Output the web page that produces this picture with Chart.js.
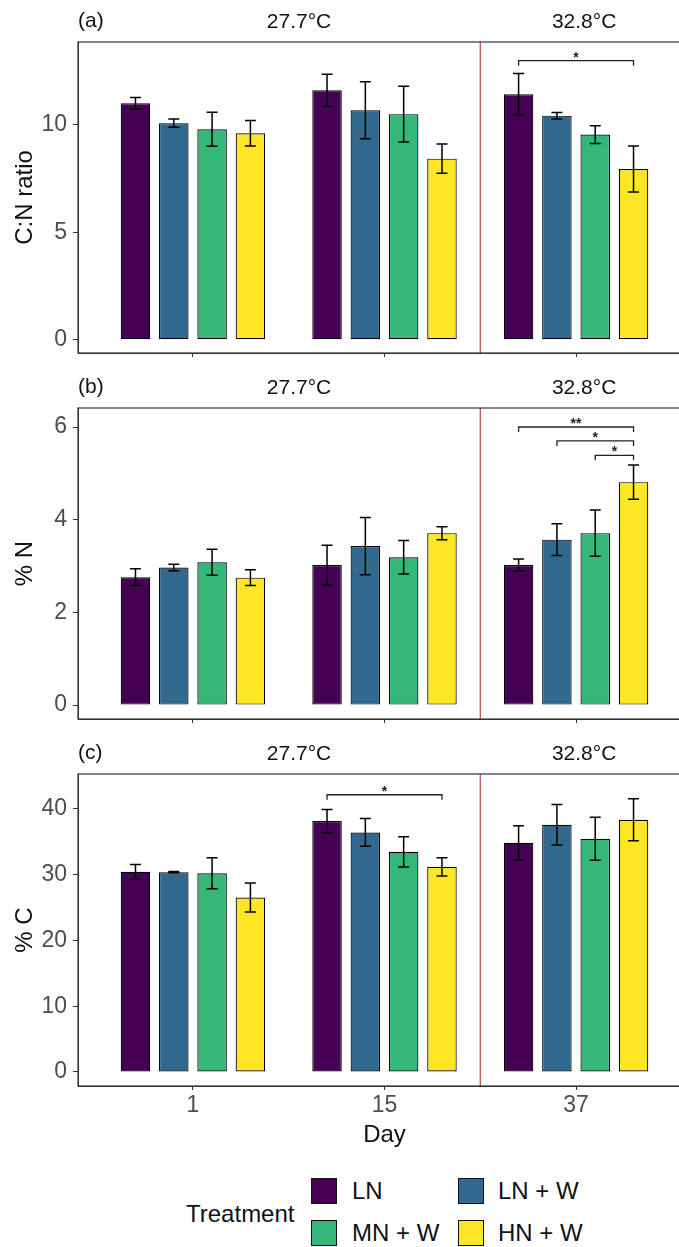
<!DOCTYPE html>
<html lang="en">
<head>
<meta charset="UTF-8" />
<title>C:N ratio, %N and %C by day and treatment</title>
<script src="https://cdn.jsdelivr.net/npm/chart.js"></script>
<style>
  body { margin: 0; background: #fff; width: 679px; height: 1247px; overflow: hidden; position: relative;
         font-family: "Liberation Sans", Arial, sans-serif; }
  canvas { position: absolute; left: 0; }
  .key { position: absolute; width: 26px; height: 26px; border: 1px solid #111; box-sizing: border-box; }
  .lab { position: absolute; font-size: 24px; line-height: 26px; color: #111; white-space: nowrap; }
</style>
</head>
<body>
<canvas id="cnChart" width="700" height="366" style="top:0"></canvas>
<canvas id="nChart" width="700" height="366" style="top:366px"></canvas>
<canvas id="cChart" width="700" height="420" style="top:732px"></canvas>
<div id="legend"></div>
<script>
const days = ["1", "15", "37"];
const treatments = ["LN", "LN + W", "MN + W", "HN + W"];
const temps = ["27.7°C", "32.8°C"];

// one row per treatment, values for day 1, 15, 37
const cnMean = [[11.01, 11.61, 11.43], [10.08, 10.68, 10.43], [9.80, 10.50, 9.55], [9.61, 8.43, 7.95]];
const cnErr  = [[0.27, 0.75, 0.96], [0.19, 1.33, 0.15], [0.79, 1.30, 0.41], [0.59, 0.68, 1.07]];
const nMean  = [[2.76, 3.02, 3.02], [2.97, 3.43, 3.57], [3.08, 3.19, 3.71], [2.75, 3.71, 4.81]];
const nErr   = [[0.18, 0.43, 0.13], [0.07, 0.62, 0.34], [0.28, 0.36, 0.50], [0.17, 0.14, 0.37]];
const cMean  = [[30.41, 38.12, 34.82], [30.36, 36.40, 37.56], [30.20, 33.45, 35.43], [26.50, 31.17, 38.32]];
const cErr   = [[1.12, 1.75, 2.60], [0.10, 2.10, 3.07], [2.36, 2.31, 3.27], [2.20, 1.40, 3.20]];

// significance: day index, from treatment, to treatment, bracket height, label
const cnSig = [[2, 0, 3, 12.99, "*"]];
const nSig  = [[2, 0, 3, 6.0, "**"], [2, 1, 3, 5.70, "*"], [2, 2, 3, 5.39, "*"]];
const cSig  = [[1, 0, 3, 42.13, "*"]];

const colors = ["#440154", "#31688E", "#35B779", "#FDE725"];

Chart.defaults.font.family = '"Liberation Sans", Arial, sans-serif';

const decor = {
  id: "decor",
  afterDatasetsDraw(chart, args, opts) {
    const { ctx, chartArea: a, scales: { x, y } } = chart;
    ctx.save();
    // error bars
    ctx.strokeStyle = "#000";
    ctx.lineWidth = 1.5;
    chart.data.datasets.forEach((ds, t) => {
      const meta = chart.getDatasetMeta(t);
      ds.err.forEach((e, g) => {
        const bx = meta.data[g].x;
        const m = ds.data[g].y;
        const yh = y.getPixelForValue(m + e), yl = y.getPixelForValue(m - e);
        ctx.beginPath();
        ctx.moveTo(bx, yh); ctx.lineTo(bx, yl);
        ctx.moveTo(bx - 5.5, yh); ctx.lineTo(bx + 5.5, yh);
        ctx.moveTo(bx - 5.5, yl); ctx.lineTo(bx + 5.5, yl);
        ctx.stroke();
      });
    });
    // significance brackets
    ctx.strokeStyle = "#222";
    ctx.lineWidth = 1.3;
    ctx.fillStyle = "#222";
    ctx.font = "bold 14px " + Chart.defaults.font.family;
    ctx.textAlign = "center";
    ctx.textBaseline = "alphabetic";
    opts.sig.forEach(([g, t0, t1, h, lab]) => {
      const x0 = chart.getDatasetMeta(t0).data[g].x;
      const x1 = chart.getDatasetMeta(t1).data[g].x;
      const yy = y.getPixelForValue(h);
      ctx.beginPath();
      ctx.moveTo(x0, yy + 5); ctx.lineTo(x0, yy); ctx.lineTo(x1, yy); ctx.lineTo(x1, yy + 5);
      ctx.stroke();
      ctx.fillText(lab, (x0 + x1) / 2, yy + 1);
    });
    // divider between temperatures
    const xd = x.getPixelForValue(2.5);
    ctx.strokeStyle = "#b04a3f";
    ctx.lineWidth = 1.2;
    ctx.beginPath();
    ctx.moveTo(xd, a.top); ctx.lineTo(xd, a.bottom);
    ctx.stroke();
    // panel border
    ctx.strokeStyle = "#333";
    ctx.lineWidth = 1.2;
    ctx.strokeRect(a.left, a.top, a.right - a.left, a.bottom - a.top);
    // panel tag and temperature labels
    ctx.fillStyle = "#111";
    ctx.font = "21px " + Chart.defaults.font.family;
    ctx.textBaseline = "middle";
    ctx.textAlign = "left";
    ctx.fillText(opts.tag, a.left, a.top - 21);
    ctx.textAlign = "center";
    ctx.fillText(temps[0], x.getPixelForValue(1.554), a.top - 20);
    ctx.fillText(temps[1], x.getPixelForValue(3.042), a.top - 20);
    ctx.restore();
  }
};

function makePanel(id, tag, yTitle, mean, err, sig, yMin, yMax, yTicks, showX) {
  const datasets = treatments.map((name, t) => ({
    label: name,
    data: mean[t].map((v, g) => ({ x: g + 1, y: v })),
    err: err[t],
    backgroundColor: colors[t],
    borderColor: "#000",
    borderWidth: 1.2,
    borderSkipped: false,
    categoryPercentage: 0.8,
    barPercentage: 0.77
  }));
  const canvas = document.getElementById(id);
  new Chart(canvas.getContext("2d"), {
    type: "bar",
    data: { datasets: datasets },
    options: {
      responsive: false,
      animation: false,
      layout: { padding: { top: 42, right: 9, left: 0, bottom: 0 } },
      plugins: {
        legend: { display: false },
        tooltip: { enabled: false },
        decor: { tag: tag, sig: sig }
      },
      scales: {
        x: {
          type: "linear",
          min: 0.4,
          max: 3.6,
          offset: false,
          afterBuildTicks: (s) => { s.ticks = [1, 2, 3].map((v) => ({ value: v })); },
          afterFit: (s) => {
            s.height = showX ? 66 : 13;
            s.paddingLeft = 0; s.paddingRight = 0;
          },
          grid: { display: true, offset: false, drawOnChartArea: false, drawTicks: true, tickLength: 4, color: "#333" },
          border: { display: true, color: "#333", width: 1 },
          ticks: {
            display: showX,
            padding: 2,
            color: "#4d4d4d",
            font: { size: 23 },
            callback: (v) => days[v - 1]
          },
          title: { display: showX, text: "Day", color: "#111", font: { size: 24 }, padding: { top: 0, bottom: 2 } }
        },
        y: {
          min: yMin,
          max: yMax,
          afterBuildTicks: (s) => { s.ticks = yTicks.map((v) => ({ value: v })); },
          afterFit: (s) => {
            s.width = 78;
            s.paddingTop = 0; s.paddingBottom = 0;
          },
          grid: { display: true, drawOnChartArea: false, drawTicks: true, tickLength: 5, color: "#333" },
          border: { display: true, color: "#333", width: 1 },
          ticks: { padding: 6, color: "#4d4d4d", font: { size: 23 } },
          title: { display: true, text: yTitle, color: "#111", font: { size: 24 }, padding: { top: 11, bottom: 0 } }
        }
      }
    },
    plugins: [decor]
  });
}

makePanel("cnChart", "(a)", "C:N ratio", cnMean, cnErr, cnSig, -0.62, 13.86, [0, 5, 10], false);
makePanel("nChart", "(b)", "% N", nMean, nErr, nSig, -0.30, 6.41, [0, 2, 4, 6], false);
makePanel("cChart", "(c)", "% C", cMean, cErr, cSig, -2.13, 45.28, [0, 10, 20, 30, 40], true);

// legend
const legend = document.getElementById("legend");
const title = document.createElement("div");
title.className = "lab";
title.textContent = "Treatment";
title.style.left = "186px";
title.style.top = "1201px";
legend.appendChild(title);
treatments.forEach((name, t) => {
  const col = t % 2, row = Math.floor(t / 2);
  const key = document.createElement("div");
  key.className = "key";
  key.style.background = colors[t];
  key.style.left = (311 + col * 147) + "px";
  key.style.top = (1178 + row * 42) + "px";
  legend.appendChild(key);
  const lab = document.createElement("div");
  lab.className = "lab";
  lab.textContent = name;
  lab.style.left = (352 + col * 146) + "px";
  lab.style.top = (1178 + row * 42) + "px";
  legend.appendChild(lab);
});
</script>
</body>
</html>
